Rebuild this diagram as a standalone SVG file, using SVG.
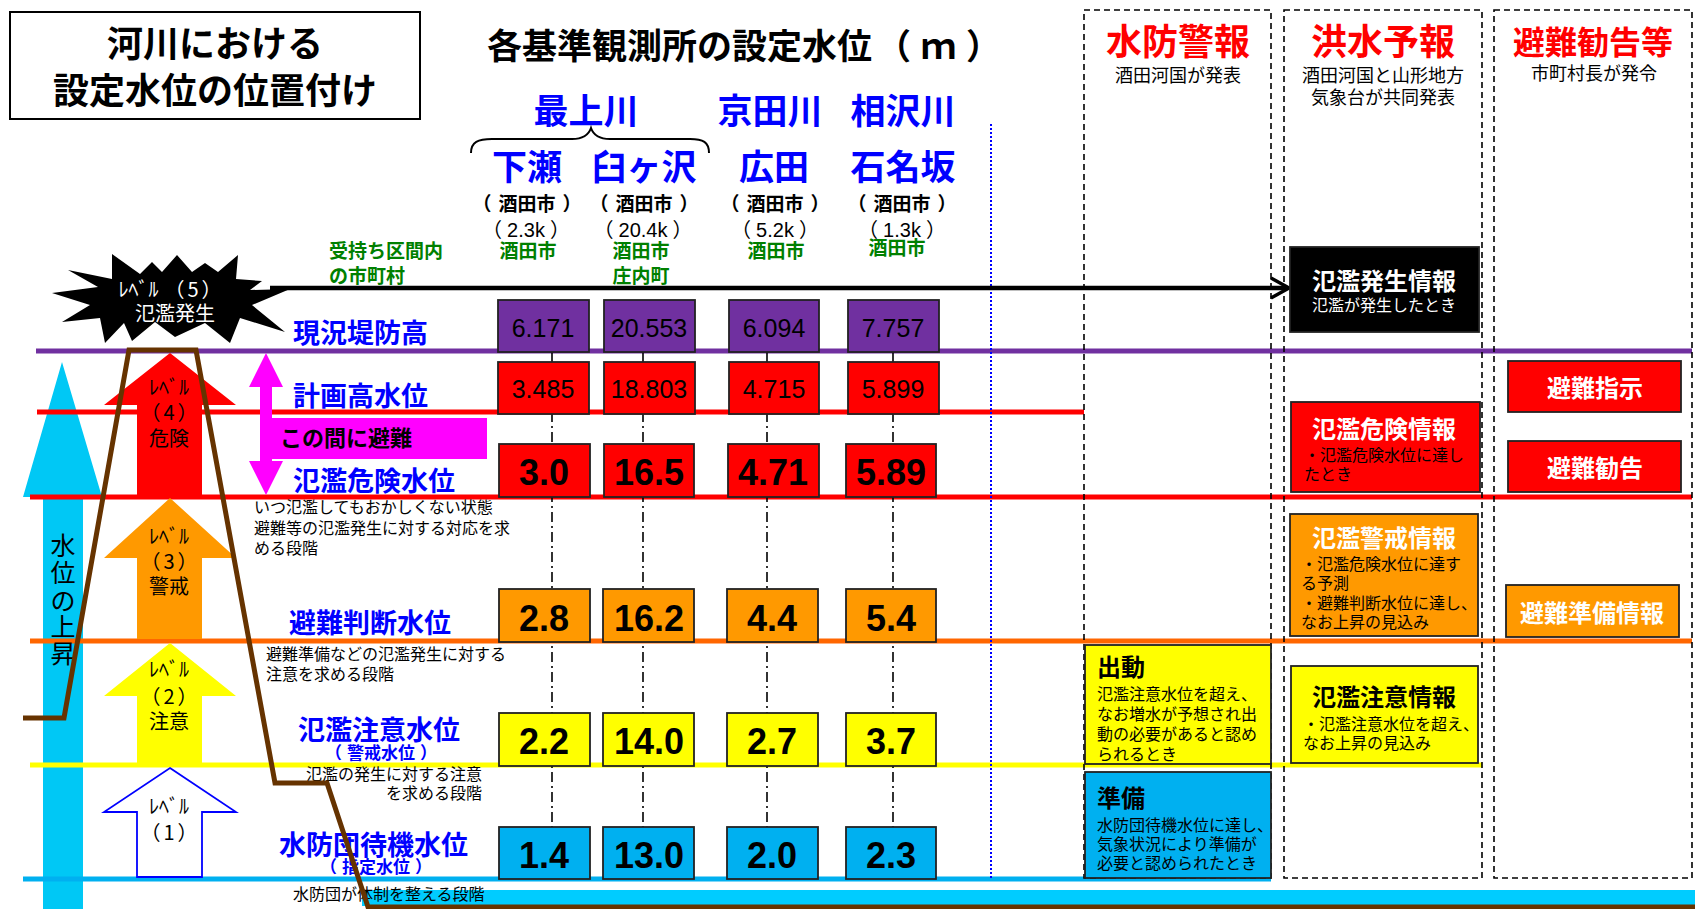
<svg xmlns="http://www.w3.org/2000/svg" width="1695" height="909" viewBox="0 0 1695 909">
<style>
.jp{font-family:"Noto Sans CJK JP","Noto Sans CJK SC",sans-serif}
.num{font-family:"Liberation Sans","Noto Sans CJK JP",sans-serif}
.b{font-weight:bold}
.c{text-anchor:middle}
.blue{fill:#0000FF}
.green{fill:#008000}
.red{fill:#FF0000}
.wh{fill:#FFFFFF}
.box{stroke:#222222;stroke-width:1.8}
.lvl{fill:none;stroke-width:5}
.dd{stroke:#000;stroke-width:1.6;stroke-dasharray:10 4 2 4;fill:none}
.col{fill:none;stroke:#000;stroke-width:1.6;stroke-dasharray:6 4}
.lbl{font-size:27px}
.desc{font-size:16px}
.sm{font-size:16px}
.ttl{font-size:24px}
.v1{font-size:25px}
.v2{font-size:36px}
</style>

<g id="levels">
  <polygon id="rise-arrow" points="62,362 102,497 83,497 83,909 43,909 43,497 23,497" fill="#00C8F5"/>
  <rect x="362" y="890" width="1333" height="16" fill="#00CCFF"/>
  <line x1="36" y1="351" x2="1692" y2="351" stroke="#7030A0" class="lvl"/>
  <line x1="37" y1="412" x2="1084" y2="412" stroke="#FF0000" class="lvl"/>
  <line x1="30" y1="497" x2="1692" y2="497" stroke="#FF0000" class="lvl"/>
  <line x1="30" y1="641" x2="1692" y2="641" stroke="#FF6600" class="lvl"/>
  <line x1="30" y1="765" x2="1482" y2="765" stroke="#FFFF00" class="lvl"/>
  <line x1="23" y1="879" x2="1271" y2="879" stroke="#00B0F0" class="lvl"/>
  <line x1="991" y1="124" x2="991" y2="878" stroke="#0000FF" stroke-width="2" stroke-dasharray="2 2"/>
</g>

<g id="title">
  <rect x="10" y="12" width="410" height="107" fill="#FFFFFF" stroke="#000" stroke-width="2"/>
  <text x="215" y="57" class="jp b c" font-size="36">河川における</text>
  <text x="215" y="104" class="jp b c" font-size="36">設定水位の位置付け</text>
</g>

<g id="header-stations">
  <text x="744" y="59" class="jp b c" font-size="35">各基準観測所の設定水位<tspan dx="4">（</tspan><tspan dx="10">ｍ</tspan><tspan dx="10">）</tspan></text>
  <text x="586" y="124" class="jp b c blue" font-size="35">最上川</text>
  <text x="770" y="124" class="jp b c blue" font-size="35">京田川</text>
  <text x="903" y="124" class="jp b c blue" font-size="35">相沢川</text>
  <path d="M471,153 C471,142 478,139 492,139 L572,139 C584,139 589,134 591,128 C593,134 598,139 610,139 L690,139 C703,139 709,142 709,153" fill="none" stroke="#000" stroke-width="2"/>
  <text x="527" y="180" class="jp b c blue" font-size="35">下瀬</text>
  <text x="644" y="180" class="jp b c blue" font-size="35">臼ヶ沢</text>
  <text x="774" y="180" class="jp b c blue" font-size="35">広田</text>
  <text x="903" y="180" class="jp b c blue" font-size="35">石名坂</text>
  <g class="jp b c" font-size="19">
    <text x="527" y="211">（<tspan dx="7">酒田市</tspan><tspan dx="7">）</tspan></text>
    <text x="644" y="211">（<tspan dx="7">酒田市</tspan><tspan dx="7">）</tspan></text>
    <text x="775" y="211">（<tspan dx="7">酒田市</tspan><tspan dx="7">）</tspan></text>
    <text x="902" y="211">（<tspan dx="7">酒田市</tspan><tspan dx="7">）</tspan></text>
  </g>
  <g class="num c" font-size="20">
    <text x="526" y="237">（<tspan dx="5">2.3k</tspan><tspan dx="5">）</tspan></text>
    <text x="643" y="237">（<tspan dx="5">20.4k</tspan><tspan dx="5">）</tspan></text>
    <text x="775" y="237">（<tspan dx="5">5.2k</tspan><tspan dx="5">）</tspan></text>
    <text x="902" y="237">（<tspan dx="5">1.3k</tspan><tspan dx="5">）</tspan></text>
  </g>
  <g class="jp b green" font-size="19">
    <text x="329" y="258">受持ち区間内</text>
    <text x="329" y="283">の市町村</text>
    <text x="528" y="258" class="c">酒田市</text>
    <text x="641" y="258" class="c">酒田市</text>
    <text x="641" y="283" class="c">庄内町</text>
    <text x="776" y="258" class="c">酒田市</text>
    <text x="897" y="255" class="c">酒田市</text>
  </g>
</g>

<g id="column-headers">
  <rect x="1084" y="10" width="187" height="868" class="col"/>
  <rect x="1284" y="10" width="198" height="868" class="col"/>
  <rect x="1494" y="10" width="198" height="868" class="col"/>
  <text x="1178" y="55" class="jp b c red" font-size="36">水防警報</text>
  <text x="1178" y="82" class="jp c" font-size="18">酒田河国が発表</text>
  <text x="1383" y="55" class="jp b c red" font-size="36">洪水予報</text>
  <text x="1383" y="82" class="jp c" font-size="18">酒田河国と山形地方</text>
  <text x="1383" y="104" class="jp c" font-size="18">気象台が共同発表</text>
  <text x="1593" y="54" class="jp b c red" font-size="32">避難勧告等</text>
  <text x="1594" y="80" class="jp c" font-size="18">市町村長が発令</text>
</g>

<g id="connectors">
  <line x1="552" y1="352" x2="552" y2="827" class="dd"/>
  <line x1="643" y1="352" x2="643" y2="827" class="dd"/>
  <line x1="767" y1="352" x2="767" y2="827" class="dd"/>
  <line x1="893" y1="352" x2="893" y2="827" class="dd"/>
  <line x1="270" y1="288" x2="1287" y2="288" stroke="#000" stroke-width="4.5"/>
  <polyline points="1271,278 1289,288 1271,298" fill="none" stroke="#000" stroke-width="3.5"/>
</g>

<g id="level-arrows">
  <g id="level4">
    <polygon points="170,353 236,405 202,405 202,497 137,497 137,405 104,405" fill="#FF0000"/>
    <text x="169" y="395" class="jp c" font-size="20">ﾚﾍﾞﾙ</text>
    <text x="169" y="420" class="jp c" font-size="20">（<tspan dx="3">4</tspan><tspan dx="3">）</tspan></text>
    <text x="169" y="446" class="jp c" font-size="20">危険</text>
  </g>
  <g id="level3">
    <polygon points="170,498 236,558 202,558 202,639 137,639 137,558 104,558" fill="#FF9900"/>
    <text x="169" y="544" class="jp c" font-size="20">ﾚﾍﾞﾙ</text>
    <text x="169" y="569" class="jp c" font-size="20">（<tspan dx="3">3</tspan><tspan dx="3">）</tspan></text>
    <text x="169" y="594" class="jp c" font-size="20">警戒</text>
  </g>
  <g id="level2">
    <polygon points="170,643 236,696 202,696 202,763 137,763 137,696 104,696" fill="#FFFF00"/>
    <text x="169" y="677" class="jp c" font-size="20">ﾚﾍﾞﾙ</text>
    <text x="169" y="704" class="jp c" font-size="20">（<tspan dx="3">2</tspan><tspan dx="3">）</tspan></text>
    <text x="169" y="729" class="jp c" font-size="20">注意</text>
  </g>
  <g id="level1">
    <polygon points="170,768 236,812 202,812 202,877 137,877 137,812 104,812" fill="#FFFFFF" stroke="#0000FF" stroke-width="1.8"/>
    <text x="169" y="814" class="jp c" font-size="20">ﾚﾍﾞﾙ</text>
    <text x="169" y="840" class="jp c" font-size="20">（<tspan dx="3">1</tspan><tspan dx="3">）</tspan></text>
  </g>
  <g id="level5">
    <polygon points="52,293 98,287 68,270 112,279 112,254 140,274 152,262 162,272 177,255 192,272 205,263 218,272 238,255 236,279 262,281 250,290 290,289 252,305 285,332 240,318 230,343 205,323 175,337 155,322 132,341 124,323 105,343 100,318 62,322 90,305" fill="#000"/>
    <text x="170" y="297" class="jp c wh" font-size="20">ﾚﾍﾞﾙ<tspan dx="6">（</tspan><tspan dx="3">5</tspan><tspan dx="3">）</tspan></text>
    <text x="175" y="321" class="jp c wh" font-size="20">氾濫発生</text>
  </g>
  <g id="rise-label" class="jp c" font-size="25">
    <text x="63" y="555">水</text>
    <text x="63" y="582">位</text>
    <text x="63" y="610">の</text>
    <text x="63" y="636">上</text>
    <text x="63" y="663">昇</text>
  </g>
</g>

<g id="evacuate-band">
  <rect x="272" y="418" width="215" height="41" fill="#FF00FF"/>
  <polygon points="266,353 283,387 272,387 272,461 283,461 266,495 249,461 260,461 260,387 249,387" fill="#FF00FF"/>
  <text x="280" y="446" class="jp b" font-size="22">この間に避難</text>
</g>

<g id="level-labels" class="jp b blue lbl">
  <text x="293" y="343">現況堤防高</text>
  <text x="293" y="406">計画高水位</text>
  <text x="293" y="491">氾濫危険水位</text>
  <text x="289" y="633">避難判断水位</text>
  <text x="298" y="740">氾濫注意水位</text>
  <text x="381" y="759" class="c" font-size="17">（<tspan dx="5">警戒水位</tspan><tspan dx="5">）</tspan></text>
  <text x="279" y="855">水防団待機水位</text>
  <text x="376" y="873" class="c" font-size="17">（<tspan dx="5">指定水位</tspan><tspan dx="5">）</tspan></text>
</g>

<g id="descriptions" class="jp desc">
  <text x="254" y="513">いつ氾濫してもおかしくない状態</text>
  <text x="254" y="534">避難等の氾濫発生に対する対応を求</text>
  <text x="254" y="554">める段階</text>
  <text x="266" y="660">避難準備などの氾濫発生に対する</text>
  <text x="266" y="680">注意を求める段階</text>
  <text x="482" y="780" text-anchor="end">氾濫の発生に対する注意</text>
  <text x="482" y="799" text-anchor="end">を求める段階</text>
  <text x="293" y="900">水防団が体制を整える段階</text>
</g>

<g id="levee">
  <polyline points="23,718 64,718 129,350 196,350 275,783 327,783 368,907 1695,907" fill="none" stroke="#663300" stroke-width="5" stroke-linejoin="miter"/>
</g>

<g id="value-boxes">
  <g id="row-levee" fill="#7030A0">
    <rect x="498" y="300" width="91" height="52" class="box"/>
    <rect x="604" y="300" width="91" height="52" class="box"/>
    <rect x="729" y="300" width="90" height="52" class="box"/>
    <rect x="848" y="300" width="91" height="52" class="box"/>
  </g>
  <g class="num c v1">
    <text x="543" y="337">6.171</text>
    <text x="649" y="337">20.553</text>
    <text x="774" y="337">6.094</text>
    <text x="893" y="337">7.757</text>
  </g>
  <g id="row-plan" fill="#FF0000">
    <rect x="498" y="362" width="91" height="52" class="box"/>
    <rect x="604" y="362" width="91" height="52" class="box"/>
    <rect x="729" y="362" width="90" height="52" class="box"/>
    <rect x="848" y="362" width="91" height="52" class="box"/>
  </g>
  <g class="num c v1">
    <text x="543" y="398">3.485</text>
    <text x="649" y="398">18.803</text>
    <text x="774" y="398">4.715</text>
    <text x="893" y="398">5.899</text>
  </g>
  <g id="row-danger" fill="#FF0000">
    <rect x="499" y="444" width="91" height="53" class="box"/>
    <rect x="604" y="444" width="90" height="53" class="box"/>
    <rect x="728" y="444" width="91" height="53" class="box"/>
    <rect x="846" y="444" width="90" height="53" class="box"/>
  </g>
  <g class="num b c v2">
    <text x="544" y="485">3.0</text>
    <text x="649" y="485">16.5</text>
    <text x="773" y="485">4.71</text>
    <text x="891" y="485">5.89</text>
  </g>
  <g id="row-judge" fill="#FF9900">
    <rect x="499" y="589" width="91" height="53" class="box"/>
    <rect x="603" y="589" width="91" height="53" class="box"/>
    <rect x="727" y="589" width="91" height="53" class="box"/>
    <rect x="846" y="589" width="90" height="53" class="box"/>
  </g>
  <g class="num b c v2">
    <text x="544" y="631">2.8</text>
    <text x="649" y="631">16.2</text>
    <text x="772" y="631">4.4</text>
    <text x="891" y="631">5.4</text>
  </g>
  <g id="row-caution" fill="#FFFF00">
    <rect x="499" y="713" width="91" height="53" class="box"/>
    <rect x="603" y="713" width="91" height="53" class="box"/>
    <rect x="727" y="713" width="91" height="53" class="box"/>
    <rect x="846" y="713" width="90" height="53" class="box"/>
  </g>
  <g class="num b c v2">
    <text x="544" y="754">2.2</text>
    <text x="649" y="754">14.0</text>
    <text x="772" y="754">2.7</text>
    <text x="891" y="754">3.7</text>
  </g>
  <g id="row-standby" fill="#00B0F0">
    <rect x="499" y="827" width="91" height="52" class="box"/>
    <rect x="603" y="827" width="91" height="52" class="box"/>
    <rect x="727" y="827" width="91" height="52" class="box"/>
    <rect x="846" y="827" width="90" height="52" class="box"/>
  </g>
  <g class="num b c v2">
    <text x="544" y="868">1.4</text>
    <text x="649" y="868">13.0</text>
    <text x="772" y="868">2.0</text>
    <text x="891" y="868">2.3</text>
  </g>
</g>

<g id="node-occurrence">
  <rect x="1290" y="247" width="189" height="85" fill="#000" class="box"/>
  <text x="1384" y="290" class="jp b c wh ttl">氾濫発生情報</text>
  <text x="1384" y="311" class="jp c wh sm">氾濫が発生したとき</text>
</g>
<g id="node-danger">
  <rect x="1291" y="402" width="189" height="90" fill="#FF0000" class="box"/>
  <text x="1384" y="438" class="jp b c wh ttl">氾濫危険情報</text>
  <text x="1304" y="461" class="jp sm">・氾濫危険水位に達し</text>
  <text x="1304" y="480" class="jp sm">たとき</text>
</g>
<g id="node-warning">
  <rect x="1290" y="514" width="188" height="122" fill="#FF9900" class="box"/>
  <text x="1384" y="547" class="jp b c wh ttl">氾濫警戒情報</text>
  <text x="1301" y="570" class="jp sm">・氾濫危険水位に達す</text>
  <text x="1301" y="589" class="jp sm">る予測</text>
  <text x="1301" y="609" class="jp sm">・避難判断水位に達し、</text>
  <text x="1301" y="628" class="jp sm">なお上昇の見込み</text>
</g>
<g id="node-caution">
  <rect x="1291" y="666" width="187" height="97" fill="#FFFF00" class="box"/>
  <text x="1384" y="706" class="jp b c ttl">氾濫注意情報</text>
  <text x="1303" y="730" class="jp sm">・氾濫注意水位を超え、</text>
  <text x="1303" y="749" class="jp sm">なお上昇の見込み</text>
</g>
<g id="node-dispatch">
  <rect x="1085" y="645" width="186" height="119" fill="#FFFF00" class="box"/>
  <text x="1097" y="676" class="jp b ttl">出動</text>
  <text x="1097" y="700" class="jp sm">氾濫注意水位を超え、</text>
  <text x="1097" y="720" class="jp sm">なお増水が予想され出</text>
  <text x="1097" y="740" class="jp sm">動の必要があると認め</text>
  <text x="1097" y="760" class="jp sm">られるとき</text>
</g>
<g id="node-prepare">
  <rect x="1085" y="772" width="186" height="106" fill="#00B0F0" class="box"/>
  <text x="1097" y="807" class="jp b ttl">準備</text>
  <text x="1097" y="831" class="jp sm">水防団待機水位に達し、</text>
  <text x="1097" y="850" class="jp sm">気象状況により準備が</text>
  <text x="1097" y="869" class="jp sm">必要と認められたとき</text>
</g>
<g id="node-order">
  <rect x="1508" y="361" width="173" height="51" fill="#FF0000" class="box"/>
  <text x="1595" y="397" class="jp b c wh ttl">避難指示</text>
</g>
<g id="node-advise">
  <rect x="1508" y="441" width="173" height="51" fill="#FF0000" class="box"/>
  <text x="1595" y="477" class="jp b c wh ttl">避難勧告</text>
</g>
<g id="node-prep-info">
  <rect x="1506" y="585" width="173" height="52" fill="#FF9900" class="box"/>
  <text x="1592" y="622" class="jp b c wh ttl">避難準備情報</text>
</g>
</svg>
